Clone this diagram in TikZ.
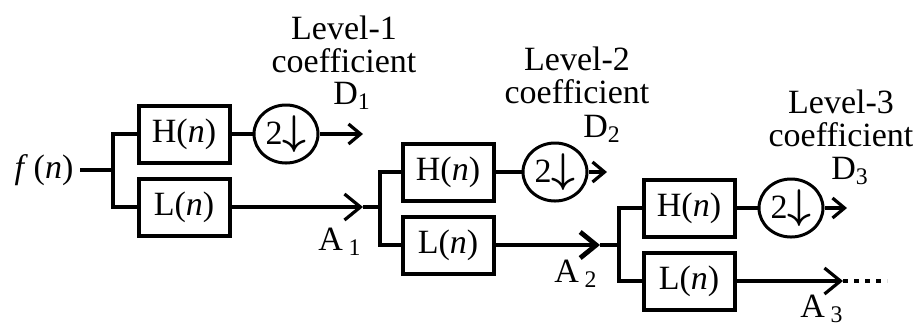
\documentclass[tikz,border=0pt]{standalone}
\usepackage{fontspec}
\setmainfont{Liberation Serif}
\usetikzlibrary{arrows.meta,positioning,shapes.geometric}

\newcommand{\dsLabel}{2{\fontsize{21}{21}\selectfont\boldmath$\downarrow$}}

\begin{document}
\begin{tikzpicture}[
  x=0.5pt, y=-0.5pt,
  every node/.style={font=\fontsize{17}{16.5}\selectfont, anchor=center},
  filterBox/.style={draw, line width=2pt, minimum width=45.5pt, minimum height=28.5pt, inner sep=0pt},
  downSamp/.style={draw, ellipse, line width=1.5pt, minimum width=32pt, minimum height=29pt, inner sep=0pt},
  sigLine/.style={line width=1.6pt},
  outTip/.style={-{Straight Barb[length=6pt, width=10pt]}},
  bigTip/.style={-{Straight Barb[length=8pt, width=13pt]}},
  levelText/.style={align=center, inner sep=0pt}
]
  \useasboundingbox (0,0) rectangle (920,329);

  % --- Stufe 1 ---
  \node (fn) at (44,170) {\textit{f}\,(\textit{n})};
  \coordinate (s1) at (113,170);
  \node (H1) [filterBox] at (184,134) {H(\textit{n})};
  \node (L1) [filterBox] at (184,207) {L(\textit{n})};
  \node (C1) [downSamp] at (286,134) {\dsLabel};
  \coordinate (D1e) at (363,134);
  \coordinate (t1) at (363,207);
  \node (lev1) [levelText] at (344,44) {Level-1\\coefficient};
  \node (D1) at (352,96) {D\textsubscript{1}};
  \node (A1) at (340,242) {A\,\textsubscript{1}};

  \draw[line width=2pt] (fn.east) -- (s1);
  \draw[sigLine] (H1.west) -| (s1) |- (L1.west);
  \draw[sigLine] (H1) -- (C1);
  \draw[sigLine, outTip] (C1) -- (D1e);
  \draw[sigLine, bigTip] (L1) -- (t1);

  % --- Stufe 2 ---
  \coordinate (s2) at (380,207);
  \node (H2) [filterBox] at (448,172) {H(\textit{n})};
  \node (L2) [filterBox] at (448,245) {L(\textit{n})};
  \node (C2) [downSamp] at (555,172) {\dsLabel};
  \coordinate (D2e) at (607,172);
  \coordinate (t2) at (600,245);
  \node (lev2) [levelText] at (577,75) {Level-2\\coefficient};
  \node (D2) at (602,129) {D\textsubscript{2}};
  \node (A2) at (576,274) {A\,\textsubscript{2}};

  \draw[sigLine] (t1) -- (s2);
  \draw[sigLine] (H2.west) -| (s2) |- (L2.west);
  \draw[sigLine] (H2) -- (C2);
  \draw[sigLine, outTip] (C2) -- (D2e);
  \draw[line width=2.4pt, bigTip] (L2) -- (t2);

  % --- Stufe 3 ---
  \coordinate (s3) at (619,245);
  \node (H3) [filterBox] at (689,208) {H(\textit{n})};
  \node (L3) [filterBox] at (689,281) {L(\textit{n})};
  \node (C3) [downSamp] at (791,208) {\dsLabel};
  \coordinate (D3e) at (847,208);
  \coordinate (t3) at (843,281);
  \coordinate (dots) at (887,281);
  \node (lev3) [levelText] at (841,118) {Level-3\\coefficient};
  \node (D3) at (850,171) {D\textsubscript{3}};
  \node (A3) at (822,309) {A\,\textsubscript{3}};

  \draw[line width=2.4pt] (t2) -- (s3);
  \draw[sigLine] (H3.west) -| (s3) |- (L3.west);
  \draw[sigLine] (H3) -- (C3);
  \draw[sigLine, outTip] (C3) -- (D3e);
  \draw[sigLine, bigTip] (L3) -- (t3);
  \draw[sigLine, dash pattern=on 2.5pt off 3pt] (t3) -- (dots);
\end{tikzpicture}
\end{document}
